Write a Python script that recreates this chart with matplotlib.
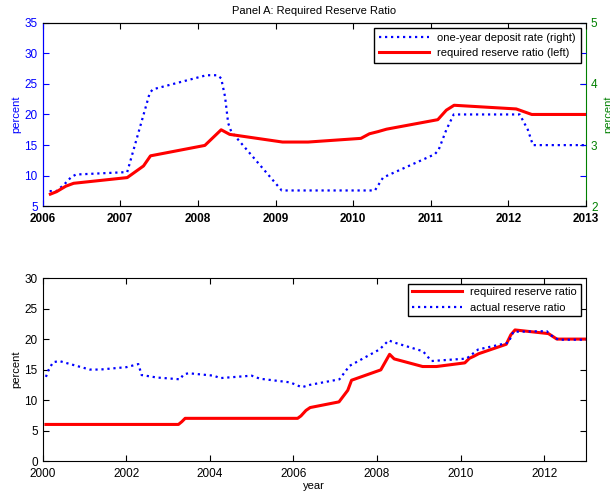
import numpy as np
import matplotlib
matplotlib.use("Agg")
import matplotlib.pyplot as plt

plt.rcParams['font.family'] = ['Liberation Sans', 'DejaVu Sans']

# required reserve ratio (percent), 2000-2013
rrr_year = [2000.08, 2003.25, 2003.33, 2003.41, 2006.10, 2006.18, 2006.30, 2006.40,
            2007.09, 2007.30, 2007.39, 2008.09, 2008.30, 2008.41, 2009.09, 2009.42,
            2010.10, 2010.21, 2010.32, 2010.43, 2011.09, 2011.20, 2011.30, 2012.10,
            2012.30, 2013.00]
rrr_val = [6.0, 6.0, 6.45, 7.0, 7.0, 7.4, 8.3, 8.77,
           9.7, 11.6, 13.25, 14.95, 17.5, 16.75, 15.5, 15.5,
           16.1, 16.85, 17.2, 17.6, 19.15, 20.7, 21.5, 20.9,
           20.0, 20.0]

# actual reserve ratio (percent)
arr_year = [2000.08, 2000.14, 2000.25, 2000.40, 2001.13, 2001.37, 2002.01, 2002.29,
            2002.37, 2002.73, 2003.29, 2003.37, 2003.49, 2004.09, 2004.25, 2005.00,
            2005.20, 2005.92, 2006.20, 2006.40, 2007.10, 2007.34, 2008.06, 2008.28,
            2008.38, 2009.10, 2009.30, 2010.14, 2010.42, 2011.14, 2011.26, 2012.06,
            2012.14, 2012.34, 2013.00]
arr_val = [13.8, 14.9, 16.2, 16.4, 15.0, 15.0, 15.4, 15.9,
           14.1, 13.7, 13.4, 14.2, 14.4, 14.0, 13.6, 14.0,
           13.5, 12.9, 12.1, 12.5, 13.4, 15.6, 18.3, 19.8,
           19.5, 18.0, 16.4, 16.8, 18.3, 19.4, 21.2, 21.3,
           20.7, 19.9, 19.9]

# one-year deposit rate (percent, right axis)
dep_year = [2006.09, 2006.18, 2006.28, 2006.37, 2006.43, 2007.09, 2007.38, 2007.42,
            2008.11, 2008.25, 2008.30, 2008.35, 2008.39, 2008.43, 2009.08, 2010.28,
            2010.385, 2010.47, 2011.05, 2011.10, 2011.20, 2011.295, 2012.145, 2012.25,
            2012.315, 2013.00]
dep_val = [2.25, 2.25, 2.36, 2.48, 2.52, 2.56, 3.85, 3.91,
           4.14, 4.14, 4.09, 3.79, 3.36, 3.22, 2.26, 2.26,
           2.47, 2.52, 2.85, 2.92, 3.25, 3.50, 3.50, 3.25,
           3.00, 3.00]

BLUE = (0, 0, 1)
RED = (1, 0, 0)
GREEN = (0, 0.5, 0)
dots = (0, (1, 1.7))

fig = plt.figure(figsize=(6.1, 4.97), dpi=100)

# ---- Panel A ----
ax1 = fig.add_axes([0.0698, 0.5847, 0.891, 0.370])
ax2 = ax1.twinx()
ry = np.array(rrr_year)
rv = np.array(rrr_val)
m = ry >= 2006.05
l_dep, = ax2.plot(dep_year, dep_val, color=BLUE, lw=1.6, linestyle=dots,
                  label='one-year deposit rate (right)')
l_rrr, = ax1.plot(ry[m], rv[m], color=RED, lw=2.2, label='required reserve ratio (left)')
ax1.set_zorder(ax2.get_zorder() + 1)
ax1.patch.set_visible(False)

ax1.set_xlim(2006, 2013)
ax1.set_ylim(5, 35)
ax2.set_ylim(2, 5)
ax1.set_xticks(range(2006, 2014))
ax1.set_yticks(range(5, 36, 5))
ax2.set_yticks([2, 3, 4, 5])
ax1.tick_params(axis='y', colors=BLUE, direction='in', right=True, labelsize=8.5, length=4)
ax1.tick_params(axis='x', direction='in', top=True, labelsize=8.5, length=4, pad=5)
ax2.tick_params(axis='y', colors=GREEN, direction='in', labelsize=8.5, length=4)
for t in ax1.get_xticklabels():
    t.set_fontweight('bold')
ax1.spines['left'].set_color(BLUE)
ax2.spines['left'].set_color(BLUE)
ax2.spines['right'].set_color(GREEN)
ax1.spines['right'].set_visible(False)
ax1.set_ylabel('percent', color=BLUE, fontsize=8, labelpad=2)
ax2.set_ylabel('percent', color=GREEN, fontsize=8, labelpad=4)
ax1.set_title('Panel A: Required Reserve Ratio', fontsize=8, pad=6)
leg = ax1.legend([l_dep, l_rrr], [l_dep.get_label(), l_rrr.get_label()],
                 loc='upper right', fontsize=8, fancybox=False, framealpha=1,
                 edgecolor='black', borderaxespad=0.5, handlelength=4.5)
leg.get_frame().set_linewidth(1.0)

# ---- Panel B ----
ax3 = fig.add_axes([0.0698, 0.0724, 0.891, 0.368])
ax3.plot(rrr_year, rrr_val, color=RED, lw=2.2, label='required reserve ratio')
ax3.plot(arr_year, arr_val, color=BLUE, lw=1.6, linestyle=dots, label='actual reserve ratio')
ax3.set_xlim(2000, 2013)
ax3.set_ylim(0, 30)
ax3.set_xticks(range(2000, 2014, 2))
ax3.set_yticks(range(0, 31, 5))
ax3.tick_params(direction='in', top=True, right=True, labelsize=8.5, length=4)
ax3.tick_params(axis='x', pad=5)
ax3.set_ylabel('percent', fontsize=8, labelpad=2)
ax3.set_xlabel('year', fontsize=8, labelpad=1)
leg2 = ax3.legend(loc='upper right', fontsize=8, fancybox=False, framealpha=1,
                  edgecolor='black', borderaxespad=0.5, handlelength=4.5,
                  borderpad=0.3)
leg2.get_frame().set_linewidth(1.0)

fig.savefig('out.png', dpi=100)
